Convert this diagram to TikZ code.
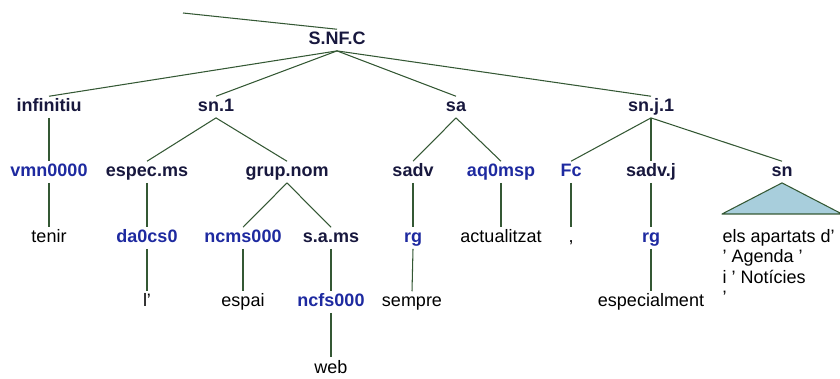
\documentclass[tikz,border=0pt]{standalone}
\usepackage{fontspec}
\setmainfont{Liberation Sans}
\usepackage{tikz}

\definecolor{phrasecol}{RGB}{24,24,62}
\definecolor{tagcol}{RGB}{30,42,160}
\definecolor{branchcol}{RGB}{52,88,52}
\definecolor{roofcol}{RGB}{168,206,220}

\begin{document}
\begin{tikzpicture}[
x=0.025cm, y=-0.025cm,
label/.style={anchor=base, inner sep=1pt, text height=10pt, text depth=3pt, font=\fontsize{12.8}{14.4}\selectfont},
phrase/.style={label, font=\fontsize{12.8}{14.4}\selectfont\bfseries, text=phrasecol},
tag/.style={label, font=\fontsize{12.8}{14.4}\selectfont\bfseries, text=tagcol},
word/.style={label, text=black},
branch/.style={draw=branchcol, line width=0.75pt},
roof/.style={draw=branchcol, fill=roofcol, line width=0.75pt, line join=round}
]
\useasboundingbox (0,0) rectangle (840,379);

\coordinate (up) at (183,13);
\node[phrase] (snfc) at (337,45) {S.NF.C};

\node[phrase] (infinitiu) at (49,112) {infinitiu};
\node[phrase] (sn1) at (216,112) {sn.1};
\node[phrase] (sa) at (456,112) {sa};
\node[phrase] (snj1) at (651,112) {sn.j.1};

\node[tag] (vmn) at (49,177) {vmn0000};
\node[phrase] (especms) at (147,177) {espec.ms};
\node[phrase] (grupnom) at (287,177) {grup.nom};
\node[phrase] (sadv) at (413,177) {sadv};
\node[tag] (aq0msp) at (501,177) {aq0msp};
\node[tag] (fc) at (571,177) {Fc};
\node[phrase] (sadvj) at (651,177) {sadv.j};
\node[phrase] (sn) at (782,177) {sn};

\node[word] (tenir) at (49,243) {tenir};
\node[tag] (da0cs0) at (147,243) {da0cs0};
\node[tag] (ncms) at (243,243) {ncms000};
\node[phrase] (sams) at (331,243) {s.a.ms};
\node[tag] (rgsa) at (413,243) {rg};
\node[word] (actualitzat) at (501,243) {actualitzat};
\node[word] (comma) at (571,243) {,};
\node[tag] (rgsn) at (651,243) {rg};

\coordinate (roofleft) at (722,214);
\coordinate (roofright) at (842,214);
\node[word, text height=, text depth=, anchor=north west, align=left] (apartats) at (721,228)
  {els apartats d’\\’ Agenda ’\\i ’ Notícies\\’};

\node[word] (li) at (147,307) {l’};
\node[word] (espai) at (243,307) {espai};
\node[tag] (ncfs) at (331,307) {ncfs000};
\node[word] (sempre) at (412,307) {sempre};
\node[word] (especialment) at (651,307) {especialment};

\node[word] (web) at (331,373) {web};

\draw[branch] (up) -- (snfc.north);
\draw[branch] (snfc.south) -- (infinitiu.north);
\draw[branch] (snfc.south) -- (sn1.north);
\draw[branch] (snfc.south) -- (sa.north);
\draw[branch] (snfc.south) -- (snj1.north);
\draw[branch] (infinitiu.south) -- (vmn.north);
\draw[branch] (vmn.south) -- (tenir.north);
\draw[branch] (sn1.south) -- (especms.north);
\draw[branch] (sn1.south) -- (grupnom.north);
\draw[branch] (especms.south) -- (da0cs0.north);
\draw[branch] (da0cs0.south) -- (li.north);
\draw[branch] (grupnom.south) -- (ncms.north);
\draw[branch] (grupnom.south) -- (sams.north);
\draw[branch] (ncms.south) -- (espai.north);
\draw[branch] (sams.south) -- (ncfs.north);
\draw[branch] (ncfs.south) -- (web.north);
\draw[branch] (sa.south) -- (sadv.north);
\draw[branch] (sa.south) -- (aq0msp.north);
\draw[branch] (sadv.south) -- (rgsa.north);
\draw[branch] (rgsa.south) -- (sempre.north);
\draw[branch] (aq0msp.south) -- (actualitzat.north);
\draw[branch] (snj1.south) -- (fc.north);
\draw[branch] (snj1.south) -- (sadvj.north);
\draw[branch] (snj1.south) -- (sn.north);
\draw[branch] (fc.south) -- (comma.north);
\draw[branch] (sadvj.south) -- (rgsn.north);
\draw[branch] (rgsn.south) -- (especialment.north);
\draw[roof] (sn.south) -- (roofleft) -- (roofright) -- cycle;

\end{tikzpicture}
\end{document}
